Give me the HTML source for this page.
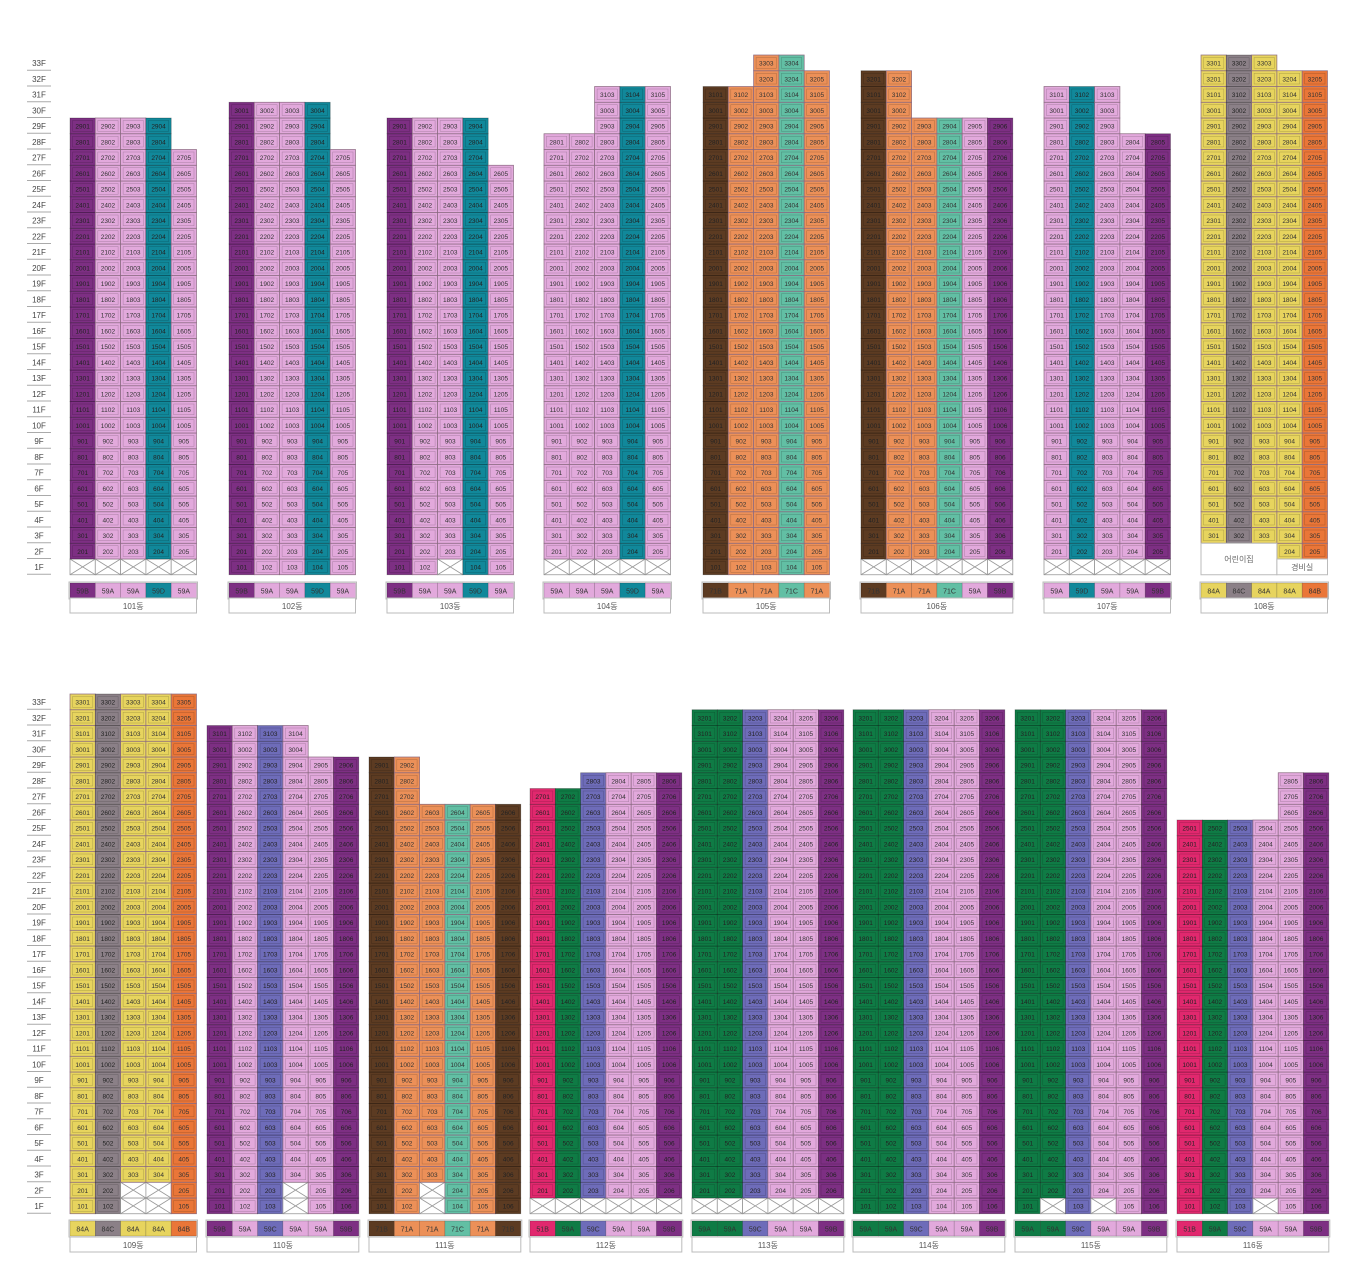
<!DOCTYPE html>
<html><head><meta charset="utf-8"><style>
body{margin:0;background:#fff;width:1350px;height:1272px;overflow:hidden}
svg{display:block}
text{font-family:"Liberation Sans","Noto Sans CJK KR",sans-serif}
</style></head><body>
<svg id="c" width="1350" height="1272"></svg>
<script>
const C={B:'#7d2f83',A:'#e2a9dc',D:'#11889a',BR:'#5c3b22',OR:'#ec9058',LT:'#62bfa4',Y:'#e7d45e',G:'#8b8087',O4:'#ea7638',M:'#e1286e',GR:'#0f7b45',V:'#6e6cb9'};
const names=['101동','102동','103동','104동','105동','106동','107동','108동','109동','110동','111동','112동','113동','114동','115동','116동'];
const tops=[[29,29,29,29,27],[30,30,30,30,27],[29,29,29,29,26],[28,28,31,31,31],[31,31,33,33,32],[32,32,29,29,29,29],[31,31,31,28,28],[33,33,33,32,32],
[33,33,33,33,33],[31,31,31,31,29,29],[29,29,26,26,26,26],[27,27,28,28,28,28],[32,32,32,32,32,32],[32,32,32,32,32,32],[32,32,32,32,32,32],[25,25,25,25,28,28]];
const colors=[['B','A','A','D','A'],['B','A','A','D','A'],['B','A','A','D','A'],['A','A','A','D','A'],['BR','OR','OR','LT','OR'],['BR','OR','OR','LT','A','B'],['A','D','A','A','B'],['Y','G','Y','Y','O4'],
['Y','G','Y','Y','O4'],['B','A','V','A','A','B'],['BR','OR','OR','LT','OR','BR'],['M','GR','V','A','A','B'],['GR','GR','V','A','A','B'],['GR','GR','V','A','A','B'],['GR','GR','V','A','A','B'],['M','GR','V','A','A','B']];
const types=[['59B','59A','59A','59D','59A'],['59B','59A','59A','59D','59A'],['59B','59A','59A','59D','59A'],['59A','59A','59A','59D','59A'],['71B','71A','71A','71C','71A'],['71B','71A','71A','71C','59A','59B'],['59A','59D','59A','59A','59B'],['84A','84C','84A','84A','84B'],
['84A','84C','84A','84A','84B'],['59B','59A','59C','59A','59A','59B'],['71B','71A','71A','71C','71A','71B'],['51B','59A','59C','59A','59A','59B'],['59A','59A','59C','59A','59A','59B'],['59A','59A','59C','59A','59A','59B'],['59A','59A','59C','59A','59A','59B'],['51B','59A','59C','59A','59A','59B']];
// empty (X) units: "floor-col"
const empty=[['1-1','1-2','1-3','1-4','1-5'],[],['1-3'],['1-1','1-2','1-3','1-4','1-5'],[],['1-1','1-2','1-3','1-4','1-5','1-6'],['1-1','1-2','1-3','1-4','1-5'],[],
['1-3','1-4','2-3','2-4'],['1-4','2-4'],['1-3','2-3'],['1-1','1-2','1-3','1-4','1-5','1-6'],['1-1','1-2','1-3','1-4','1-5','1-6'],[],['1-2','1-4'],['1-4']];
const lefts=[70,229,387,544,703,861,1044,1201,70,207,369,530,692,853,1015,1177];
const NS='http://www.w3.org/2000/svg',svg=document.getElementById('c');
const CW=25.3,RH=15.75;
function el(t,a,p){const e=document.createElementNS(NS,t);for(const k in a)e.setAttribute(k,a[k]);(p||svg).appendChild(e);return e;}
function rowTop(chart,f){return (chart?694:55)+(33-f)*RH;}
[0,1].forEach(ch=>{
  const g=el('g',{});
  
  
  for(let f=33;f>=1;f--){const y=rowTop(ch,f);
    const t=el('text',{x:39,y:y+11,'font-size':8,'text-anchor':'middle',fill:'#444'},g);t.textContent=f+'F';
    el('line',{x1:27,x2:51,y1:y+RH-0.5,y2:y+RH-0.5,stroke:'#aaa','stroke-width':1},g);}
});
tops.forEach((tp,b)=>{
  const ch=b<8?0:1,x0=lefts[b],n=tp.length;
  const g=el('g',{});
  
  
  for(let c=0;c<n;c++){
    const x=x0+c*CW;
    for(let f=1;f<=tp[c];f++){
      const y=rowTop(ch,f);
      const num=f*100+c+1;
      if(b===7&&f<=2&&c<3)continue;
      if(b===7&&f===1)continue;
      if(empty[b].includes(f+'-'+(c+1))){
        el('rect',{x:x,y:y,width:CW,height:RH,fill:'#fff',stroke:'#999','stroke-width':0.8},g);
        el('path',{d:`M${x} ${y}L${x+CW} ${y+RH}M${x+CW} ${y}L${x} ${y+RH}`,stroke:'#999','stroke-width':0.8},g);
        continue;}
      const col=C[colors[b][c]];
      const dark=['B','D','BR','G','M','GR','V'].includes(colors[b][c]);
      el('rect',{x:x,y:y,width:CW,height:RH,fill:col,stroke:dark?'rgba(0,0,0,0.35)':'#8a6a80','stroke-width':0.7},g);
      el('rect',{x:x+2.5,y:y+2.5,width:CW-5,height:RH-5,fill:'none',stroke:'rgba(0,0,0,0.25)','stroke-width':0.5},g);
      const t=el('text',{x:x+CW/2,y:y+10.5,'font-size':6.5,'text-anchor':'middle',fill:dark?'#222':'#333'},g);t.textContent=num;
    }
  }
  if(b===7){
    const y2=rowTop(0,2);
    const r=el('rect',{x:x0,y:y2,width:CW*3,height:RH*2,fill:'#fff',stroke:'#bbb'},g);
    const t=el('text',{x:x0+CW*1.5,y:y2+RH+3,'font-size':8,'text-anchor':'middle',fill:'#666'},g);t.textContent='어린이집';
    const y1=rowTop(0,1);
    el('rect',{x:x0+CW*3,y:y1,width:CW*2,height:RH,fill:'#fff',stroke:'#bbb'},g);
    const t2=el('text',{x:x0+CW*4,y:y1+11,'font-size':8,'text-anchor':'middle',fill:'#666'},g);t2.textContent='경비실';
  }
  const ty=ch?1221:583,ny=ch?1237:598;
  el('rect',{x:x0-1,y:ty-1,width:CW*n+2,height:17,fill:'none',stroke:'#bbb'},g);
  for(let c=0;c<n;c++){
    const x=x0+c*CW,col=C[colors[b][c]];
    const r=el('rect',{x:x,y:ty,width:CW,height:15,fill:col,stroke:'rgba(0,0,0,0.25)','stroke-width':0.6},g);
    
    
    const t=el('text',{x:x+CW/2,y:ty+10.5,'font-size':7,'text-anchor':'middle',fill:'#333'},g);t.textContent=types[b][c];
  }
  const nb=el('rect',{x:x0,y:ny,width:CW*n,height:15,fill:'#fff',stroke:'#bbb'},g);
  
  
  const nt=el('text',{x:x0+CW*n/2,y:ny+11,'font-size':8,'text-anchor':'middle',fill:'#555'},g);nt.textContent=names[b];
});
</script>
</body></html>
